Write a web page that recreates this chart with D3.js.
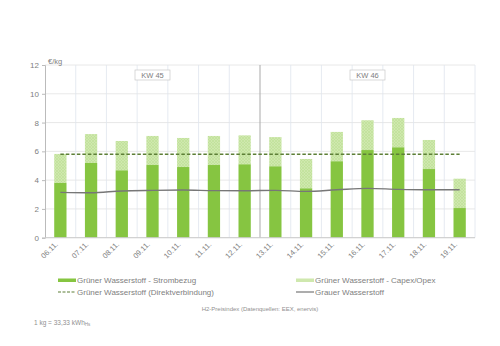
<!DOCTYPE html>
<html><head><meta charset="utf-8">
<script src="https://cdn.jsdelivr.net/npm/d3@7"></script>
<style>body{margin:0;background:#fff}svg{display:block}text{font-family:"Liberation Sans",Arial,sans-serif}</style>
</head><body>
<svg id="c" width="500" height="346"></svg>
<script>
const categories = ["06.11.","07.11.","08.11.","09.11.","10.11.","11.11.","12.11.","13.11.","14.11.","15.11.","16.11.","17.11.","18.11.","19.11."];
const strombezug = [3.80,5.19,4.68,5.05,4.91,5.05,5.10,4.96,3.43,5.31,6.09,6.28,4.77,2.06];
const gesamt     = [5.82,7.20,6.72,7.07,6.93,7.07,7.11,6.99,5.47,7.35,8.16,8.32,6.79,4.10];
const direkt     = [5.8,5.8,5.8,5.8,5.8,5.8,5.8,5.8,5.8,5.8,5.8,5.8,5.8,5.8];
const grau       = [3.15,3.12,3.25,3.29,3.31,3.27,3.26,3.29,3.22,3.33,3.43,3.36,3.33,3.33];
const yTicks = [0,2,4,6,8,10,12];
const weeks = [{label:"KW 45", from:0, to:7},{label:"KW 46", from:7, to:14}];

const svg = d3.select("#c");
const L=45, R=475, T=65, B=237.7;
const x = d3.scaleBand().domain(categories).range([L,R]).paddingInner(0).paddingOuter(0);
const y = d3.scaleLinear().domain([0,12]).range([B,T]);

const defs = svg.append("defs");
const pat = defs.append("pattern").attr("id","hatch").attr("patternUnits","userSpaceOnUse").attr("width",3).attr("height",3);
pat.append("rect").attr("width",3).attr("height",3).attr("fill","#cfe8ae");
pat.append("path").attr("d","M0,0L3,3M3,0L0,3").attr("stroke","#bcdf95").attr("stroke-width",0.6);

// horizontal grid
svg.append("g").selectAll("line").data(yTicks).join("line")
  .attr("x1",L).attr("x2",R).attr("y1",d=>y(d)).attr("y2",d=>y(d))
  .attr("stroke","#e2e2e2").attr("stroke-width",0.8);
// vertical grid
const bounds = categories.map((c,i)=>x(c)).concat([R]);
svg.append("g").selectAll("line").data(bounds.slice(1)).join("line")
  .attr("x1",d=>d).attr("x2",d=>d).attr("y1",T).attr("y2",B)
  .attr("stroke",(d,i)=>i===6?"#a9a9a9":"#dfe4ee").attr("stroke-width",(d,i)=>i===6?1:0.8);

// y axis
const yAxis = d3.axisLeft(y).tickValues(yTicks).tickSize(3).tickPadding(3);
const ga = svg.append("g").attr("transform",`translate(${L},0)`).call(yAxis);
ga.select(".domain").attr("stroke","#bbb");
ga.selectAll(".tick line").attr("stroke","#bbb");
ga.selectAll("text").attr("fill","#808080").attr("font-size",8);
svg.append("text").attr("x",L+3).attr("y",T-1).attr("fill","#808080").attr("font-size",7.5).text("€/kg");

// bars
const bw = x.bandwidth()*0.4;
const g = svg.append("g");
g.selectAll(".cap").data(categories).join("rect")
  .attr("x",d=>x(d)+(x.bandwidth()-bw)/2).attr("width",bw)
  .attr("y",(d,i)=>y(gesamt[i])).attr("height",(d,i)=>y(strombezug[i])-y(gesamt[i]))
  .attr("fill","url(#hatch)");
g.selectAll(".str").data(categories).join("rect")
  .attr("x",d=>x(d)+(x.bandwidth()-bw)/2).attr("width",bw)
  .attr("y",(d,i)=>y(strombezug[i])).attr("height",(d,i)=>B-y(strombezug[i]))
  .attr("fill","#86c541");

// x axis line
svg.append("line").attr("x1",L).attr("x2",R).attr("y1",B).attr("y2",B).attr("stroke","#ccc");
// x labels
svg.append("g").selectAll("text").data(categories).join("text")
  .attr("transform",d=>`translate(${x(d)+x.bandwidth()/2-2},${B+7}) rotate(-45)`)
  .attr("text-anchor","end").attr("fill","#808080").attr("font-size",7.5).text(d=>d);

// lines
const cx = (d,i)=>x(categories[i])+x.bandwidth()/2;
svg.append("path").datum(direkt).attr("fill","none").attr("stroke","#5d7f36").attr("stroke-width",1.4)
  .attr("stroke-dasharray","3.5,2")
  .attr("d",d3.line().x(cx).y(d=>y(d)));
svg.append("path").datum(grau).attr("fill","none").attr("stroke","#777").attr("stroke-width",1.4)
  .attr("d",d3.line().x(cx).y(d=>y(d)).curve(d3.curveMonotoneX));

// week labels
weeks.forEach(w=>{
  const x0 = x(categories[w.from]), x1 = w.to<categories.length?x(categories[w.to]):R;
  const cxw=(x0+x1)/2;
  svg.append("rect").attr("x",cxw-17.5).attr("y",70).attr("width",35).attr("height",10)
    .attr("fill","#fff").attr("stroke","#c8c8c8").attr("stroke-width",0.7);
  svg.append("text").attr("x",cxw).attr("y",78).attr("text-anchor","middle").attr("fill","#808080")
    .attr("font-size",7.5).text(w.label);
});

// legend
const lg = svg.append("g").attr("font-size",8);
lg.append("rect").attr("x",58).attr("y",278.5).attr("width",18).attr("height",3.5).attr("fill","#86c541");
lg.append("text").attr("x",77).attr("y",283).attr("fill","#808080").text("Grüner Wasserstoff - Strombezug");
lg.append("rect").attr("x",296).attr("y",278.5).attr("width",18).attr("height",3.5).attr("fill","#cfe8ae");
lg.append("text").attr("x",315).attr("y",283).attr("fill","#808080").text("Grüner Wasserstoff - Capex/Opex");
lg.append("line").attr("x1",58).attr("x2",76).attr("y1",292).attr("y2",292).attr("stroke","#5d7f36").attr("stroke-width",1.2).attr("stroke-dasharray","3,1.5");
lg.append("text").attr("x",77).attr("y",295).attr("fill","#808080").text("Grüner Wasserstoff (Direktverbindung)");
lg.append("line").attr("x1",296).attr("x2",314).attr("y1",292).attr("y2",292).attr("stroke","#777").attr("stroke-width",1.2);
lg.append("text").attr("x",315).attr("y",295).attr("fill","#808080").text("Grauer Wasserstoff");

svg.append("text").attr("x",260).attr("y",311).attr("text-anchor","middle").attr("fill","#909090").attr("font-size",6)
  .text("H2-Preisindex (Datenquellen: EEX, enervis)");
const fn = svg.append("text").attr("x",34).attr("y",324.5).attr("fill","#909090").attr("font-size",6.5);
fn.append("tspan").text("1 kg = 33,33 kWh");
fn.append("tspan").attr("font-size",4.5).attr("dy",1.5).text("Hs");
</script>
</body></html>
